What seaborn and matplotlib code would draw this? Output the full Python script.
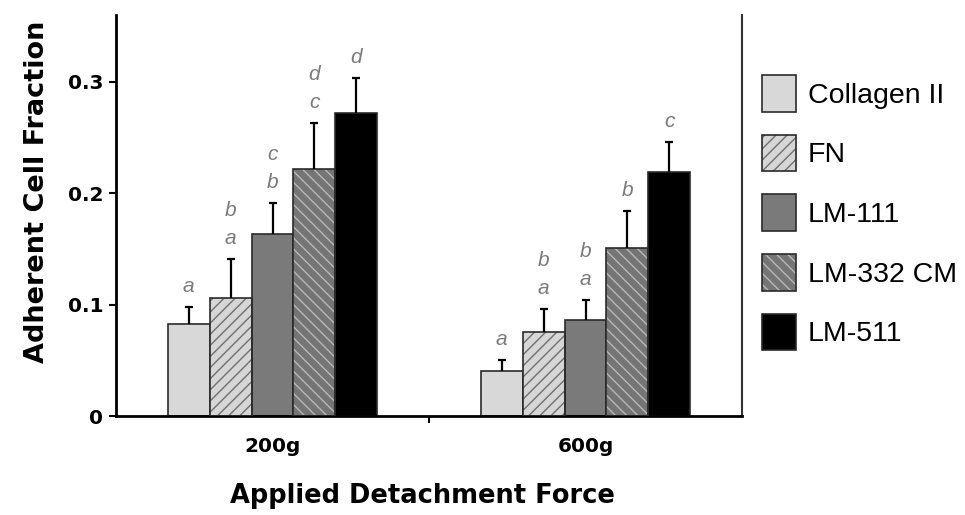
import numpy as np
import pandas as pd
import matplotlib
matplotlib.use("Agg")
import matplotlib.pyplot as plt
from matplotlib.patches import Patch, Rectangle
import seaborn as sns

# ---- data ----
forces = ["200g", "600g"]
substrates = ["Collagen II", "FN", "LM-111", "LM-332 CM", "LM-511"]
mean_200g = [0.083, 0.106, 0.163, 0.222, 0.272]
mean_600g = [0.040, 0.075, 0.086, 0.151, 0.219]
err_200g = [0.015, 0.035, 0.028, 0.041, 0.031]
err_600g = [0.010, 0.021, 0.018, 0.033, 0.027]
# significance letters, listed bottom to top
letters_200g = [["a"], ["a", "b"], ["b", "c"], ["c", "d"], ["d"]]
letters_600g = [["a"], ["a", "b"], ["a", "b"], ["b"], ["c"]]
y_ticks = [0, 0.1, 0.2, 0.3]
y_tick_labels = ["0", "0.1", "0.2", "0.3"]

# ---- styles ----
face_colors = ["#d8d8d8", "#d6d6d6", "#7a7a7a", "#757575", "#000000"]
hatches = [None, "///", None, "\\\\\\", None]
hatch_colors = [None, "#707070", None, "#b8b8b8", None]
edge_color = "#2a2a2a"

sns.set_style("ticks")
plt.rcParams["hatch.linewidth"] = 1.0
plt.rcParams["text.color"] = "black"
plt.rcParams["axes.labelcolor"] = "black"
plt.rcParams["xtick.color"] = "black"
plt.rcParams["ytick.color"] = "black"

rows = []
for f, means in zip(forces, [mean_200g, mean_600g]):
    for s, m in zip(substrates, means):
        rows.append({"force": f, "substrate": s, "value": m})
df = pd.DataFrame(rows)

fig = plt.figure(figsize=(9.65, 5.15), dpi=100)
ax = fig.add_axes([116 / 965, 1 - 416 / 515, 626 / 965, 401 / 515])

sns.barplot(data=df, x="force", y="value", hue="substrate", order=forces,
            hue_order=substrates, palette=face_colors, width=0.67,
            errorbar=None, saturation=1, legend=False, ax=ax,
            edgecolor=edge_color, linewidth=1.2, zorder=2)

means_by_sub = list(zip(mean_200g, mean_600g))
errs_by_sub = list(zip(err_200g, err_600g))
letters_by_sub = list(zip(letters_200g, letters_600g))

bar_containers = list(ax.containers)
for i, cont in enumerate(bar_containers):
    xs = []
    for bar in cont.patches:
        xs.append(bar.get_x() + bar.get_width() / 2)
        if hatches[i]:
            bar.set_hatch(hatches[i])
            bar.set_edgecolor(hatch_colors[i])
            bar.set_linewidth(0)
            ax.add_patch(Rectangle(bar.get_xy(), bar.get_width(), bar.get_height(),
                                   fill=False, edgecolor=edge_color, linewidth=1.2,
                                   zorder=3))
    means = np.array(means_by_sub[i])
    errs = np.array(errs_by_sub[i])
    eb = ax.errorbar(xs, means, yerr=[np.zeros_like(errs), errs], fmt="none",
                     ecolor="black", elinewidth=1.6, capsize=2.6, capthick=1.6,
                     zorder=4)
    caplines = eb.lines[1]
    if len(caplines) == 2:
        caplines[0].set_visible(False)
    for x, m, e, lets in zip(xs, means, errs, letters_by_sub[i]):
        for k, letter in enumerate(lets):
            ax.annotate(letter, (x, m + e), xytext=(0, 11 + 20 * k),
                        textcoords="offset points", ha="center", va="baseline",
                        fontsize=15, style="italic", color="#7a7a7a",
                        family=["Liberation Sans", "DejaVu Sans"])

ax.set_xlim(-0.5, 1.5)
ax.set_ylim(0, 0.36)
ax.set_yticks(y_ticks)
ax.set_yticklabels(y_tick_labels)
ax.set_xticks([0, 1])
ax.set_xticklabels(forces)
ax.set_xticks([0.5], minor=True)

bold_font = dict(family="DejaVu Sans", weight="bold", color="black")
for lab in ax.get_xticklabels() + ax.get_yticklabels():
    lab.set_fontfamily("DejaVu Sans")
    lab.set_fontweight("bold")
    lab.set_fontsize(14.5)
    lab.set_color("black")

ax.tick_params(axis="x", which="major", length=0, pad=15)
ax.tick_params(axis="x", which="minor", length=5, width=1.5, direction="out", color="black")
ax.tick_params(axis="y", length=5, width=1.5, direction="out", pad=4, color="black")

ax.set_xlabel("Applied Detachment Force", fontsize=18.5, **bold_font)
ax.set_ylabel("Adherent Cell Fraction", fontsize=19.5, **bold_font)
ax.xaxis.set_label_coords(0.49, -0.168)
ax.yaxis.set_label_coords(-0.105, 0.56)

for side in ["left", "bottom"]:
    ax.spines[side].set_linewidth(2.0)
    ax.spines[side].set_color("black")
ax.spines["right"].set_visible(True)
ax.spines["right"].set_linewidth(1.5)
ax.spines["right"].set_color("#333333")
ax.spines["top"].set_visible(False)

# legend
handles = []
for fc, h, hc in zip(face_colors, hatches, hatch_colors):
    if h:
        handles.append((Patch(facecolor=fc, edgecolor=hc, hatch=h, linewidth=0),
                        Patch(facecolor="none", edgecolor=edge_color, linewidth=1.2)))
    else:
        handles.append(Patch(facecolor=fc, edgecolor=edge_color, linewidth=1.2))
fig.legend(handles, substrates, loc="upper left",
           bbox_to_anchor=(762 / 965, 1 - 75 / 515), frameon=False,
           prop={"family": "Liberation Sans", "size": 20.5},
           handlelength=1.19, handleheight=1.6, labelspacing=0.81,
           handletextpad=0.42, borderpad=0, borderaxespad=0)

fig.savefig("out.png", dpi=100)
